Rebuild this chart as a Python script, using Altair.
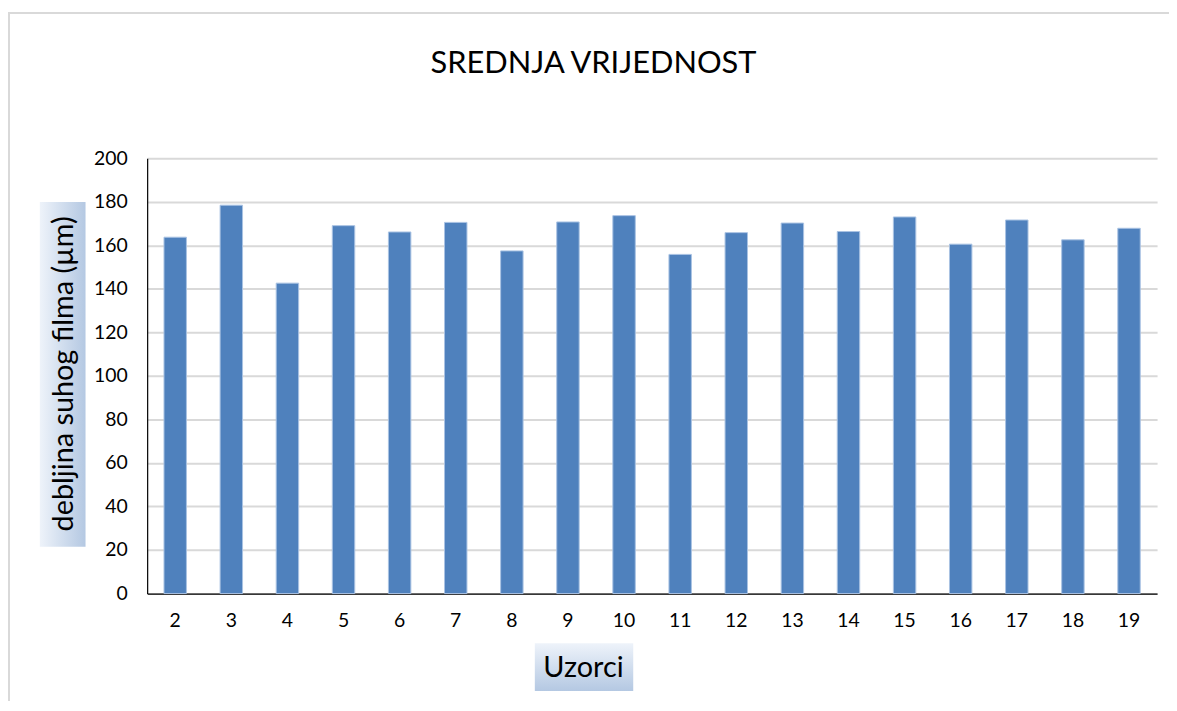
import altair as alt
import pandas as pd

samples = ["2", "3", "4", "5", "6", "7", "8", "9", "10", "11", "12", "13", "14", "15", "16", "17", "18", "19"]
values = [163.7, 178.4, 142.6, 169.0, 166.1, 170.5, 157.4, 170.7, 173.6, 155.8,
          165.8, 170.2, 166.3, 173.0, 160.5, 171.6, 162.5, 167.8]

title_text = "SREDNJA VRIJEDNOST"
x_title = "Uzorci"
y_title = "debljina suhog filma (µm)"

df = pd.DataFrame({"uzorak": samples, "vrijednost": values})
one = alt.Data(values=[{}])
FONT = "Lato"

bars = alt.Chart(df).mark_bar(color="#4f81bd", stroke="#a9c3e3", strokeWidth=1).encode(
    x=alt.X("uzorak:N", sort=samples,
            scale=alt.Scale(paddingInner=0.6, paddingOuter=0.3),
            axis=alt.Axis(title=None, labelAngle=0, ticks=False, domainColor="#000000",
                          domainWidth=1.2, labelFontSize=19.5, labelColor="#000000",
                          labelFont=FONT, labelPadding=18, grid=False)),
    y=alt.Y("vrijednost:Q", scale=alt.Scale(domain=[0, 200], nice=False),
            axis=alt.Axis(title=None, values=list(range(0, 201, 20)), ticks=False,
                          domainColor="#000000", domainWidth=1.2, labelFontSize=19.5,
                          labelColor="#000000", labelFont=FONT, labelPadding=20,
                          gridColor="#d9d9d9", gridWidth=2)),
)

frame_top = alt.Chart(one).mark_rule(color="#d9d9d9", strokeWidth=2).encode(
    x=alt.value(-140), x2=alt.value(1030), y=alt.value(-146))
frame_left = alt.Chart(one).mark_rule(color="#d9d9d9", strokeWidth=2).encode(
    x=alt.value(-139), y=alt.value(-146), y2=alt.value(560))

grad_h = alt.Gradient(gradient="linear", x1=0, x2=1, y1=0, y2=0,
                      stops=[alt.GradientStop(color="#eef3fa", offset=0),
                             alt.GradientStop(color="#b4c8e2", offset=1)])
grad_v = alt.Gradient(gradient="linear", x1=0, x2=0, y1=0, y2=1,
                      stops=[alt.GradientStop(color="#eef3fa", offset=0),
                             alt.GradientStop(color="#b4c8e2", offset=1)])

ybox = alt.Chart(one).mark_rect(fill=grad_h).encode(
    x=alt.value(-108), x2=alt.value(-62), y=alt.value(44), y2=alt.value(391))
ytext = alt.Chart(one).mark_text(text=y_title, angle=270, fontSize=29, font=FONT,
                                 color="#000000", baseline="middle", align="center").encode(
    x=alt.value(-84), y=alt.value(217))

xbox = alt.Chart(one).mark_rect(fill=grad_v).encode(
    x=alt.value(390), x2=alt.value(489), y=alt.value(488), y2=alt.value(536))
xtext = alt.Chart(one).mark_text(text=x_title, fontSize=29, font=FONT,
                                 color="#000000", baseline="middle", align="center").encode(
    x=alt.value(439), y=alt.value(513))

ttext = alt.Chart(one).mark_text(text=title_text, fontSize=31, font=FONT,
                                 color="#000000", baseline="alphabetic", align="center").encode(
    x=alt.value(449), y=alt.value(-86))

chart = alt.layer(frame_top, frame_left, bars, ybox, ytext, xbox, xtext, ttext).properties(
    width=1016, height=438,
    autosize=alt.AutoSizeParams(type="none"),
    padding={"left": 140, "top": 149, "right": 12, "bottom": 106},
    background="white",
).configure_view(stroke=None)

chart.save("out.html", embed_options={"renderer": "svg", "actions": False})
